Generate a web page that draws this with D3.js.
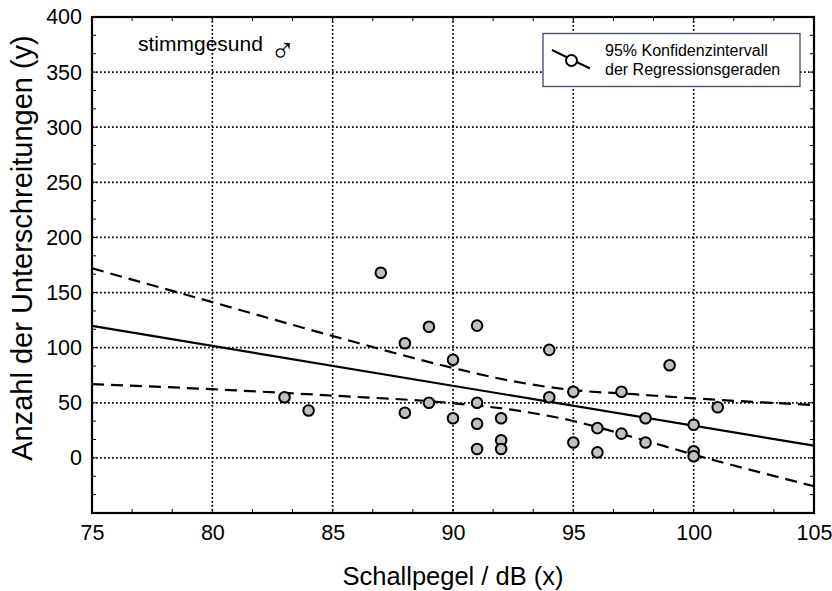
<!DOCTYPE html>
<html><head><meta charset="utf-8">
<script src="https://cdn.jsdelivr.net/npm/d3@7"></script>
<style>
html,body{margin:0;padding:0;background:#fff;}
text{font-family:"Liberation Sans",Arial,sans-serif;fill:#000;}
</style></head>
<body>
<svg id="chart" width="832" height="591"></svg>
<script>
// ---- data ----
const pointX = [83,84,87,88,88,89,89,90,90,91,91,91,91,92,92,92,94,94,95,95,96,96,97,97,98,98,99,100,100,100,101];
const pointY = [55,43,168,104,41,119,50,89,36,120,50,31,8,36,16,8,98,55,60,14,27,5,60,22,36,14,84,30,6,1.5,46];
const regX = [75,105];
const regY = [119.7,11.1];
const bandX = [75,80,85,90,92.5,95,97.5,100,105];
const bandUpper = [172,141.3,110.6,81.6,69.5,61.5,57.8,54,48];
const bandLower = [67,62.3,56.5,49.6,43.5,33.5,18.7,3,-25.7];
const xTicks = [75,80,85,90,95,100,105];
const yTicks = [0,50,100,150,200,250,300,350,400];
const titleText = "stimmgesund";
const titleSymbol = "♂";
const legendLines = ["95% Konfidenzintervall","der Regressionsgeraden"];
const xLabel = "Schallpegel / dB (x)";
const yLabel = "Anzahl der Unterschreitungen (y)";

// ---- layout ----
const L = 92, R = 814, T = 17, B = 513;
const svg = d3.select("#chart");
const x = d3.scaleLinear().domain([75,105]).range([L,R]);
const y = d3.scaleLinear().domain([-50,400]).range([B,T]);

// gridlines
const grid = svg.append("g");
grid.selectAll("line.gx").data(xTicks.filter(v=>v>75&&v<105)).join("line")
  .attr("x1",d=>x(d)).attr("x2",d=>x(d)).attr("y1",T).attr("y2",B)
  .attr("stroke","#000").attr("stroke-width",1.7).attr("stroke-dasharray","1.7,2.3");
grid.selectAll("line.gy").data(yTicks.filter(v=>v<400)).join("line")
  .attr("y1",d=>y(d)).attr("y2",d=>y(d)).attr("x1",L).attr("x2",R)
  .attr("stroke","#000").attr("stroke-width",1.7).attr("stroke-dasharray","1.7,2.3");

// minor / major ticks on all four sides (inward)
const xMinor = d3.range(0,19).map(i=>75+i*5/3);
const yMinor = d3.range(0,28).map(i=>-50+i*50/3);
const tk = svg.append("g").attr("stroke","#000").attr("stroke-width",1);
tk.selectAll("line.xb").data(xMinor).join("line")
  .attr("x1",d=>x(d)).attr("x2",d=>x(d)).attr("y1",B).attr("y2",B-4);
tk.selectAll("line.xt").data(xMinor).join("line")
  .attr("x1",d=>x(d)).attr("x2",d=>x(d)).attr("y1",T).attr("y2",T+4);
tk.selectAll("line.yl").data(yMinor).join("line")
  .attr("y1",d=>y(d)).attr("y2",d=>y(d)).attr("x1",L).attr("x2",L+4);
tk.selectAll("line.yr").data(yMinor).join("line")
  .attr("y1",d=>y(d)).attr("y2",d=>y(d)).attr("x1",R).attr("x2",R-4);

// axes tick labels via d3 axes
const xAxis = svg.append("g").attr("transform",`translate(0,${B})`)
  .call(d3.axisBottom(x).tickValues(xTicks).tickSize(0).tickPadding(12).tickFormat(d3.format("d")));
xAxis.select(".domain").remove();
xAxis.selectAll("text").attr("font-size",21.5).attr("font-family","Liberation Sans, Arial, sans-serif").attr("fill","#000");
const yAxis = svg.append("g").attr("transform",`translate(${L},0)`)
  .call(d3.axisLeft(y).tickValues(yTicks).tickSize(0).tickPadding(10).tickFormat(d3.format("d")));
yAxis.select(".domain").remove();
yAxis.selectAll("text").attr("font-size",21.5).attr("font-family","Liberation Sans, Arial, sans-serif").attr("fill","#000");

// frame
svg.append("rect").attr("x",L).attr("y",T).attr("width",R-L).attr("height",B-T)
  .attr("fill","none").attr("stroke","#000").attr("stroke-width",2.2);

// regression line & confidence bands
const line = d3.line().x(d=>x(d[0])).y(d=>y(d[1]));
const curve = d3.line().x(d=>x(d[0])).y(d=>y(d[1])).curve(d3.curveMonotoneX);
svg.append("path").attr("d",line(regX.map((v,i)=>[v,regY[i]])))
  .attr("fill","none").attr("stroke","#000").attr("stroke-width",2.2);
[bandUpper,bandLower].forEach(arr=>{
  svg.append("path").attr("d",curve(bandX.map((v,i)=>[v,arr[i]])))
    .attr("fill","none").attr("stroke","#000").attr("stroke-width",2.2).attr("stroke-dasharray","12,7");
});

// points
svg.append("g").selectAll("circle").data(pointX.map((v,i)=>[v,pointY[i]])).join("circle")
  .attr("cx",d=>x(d[0])).attr("cy",d=>y(d[1])).attr("r",5.3)
  .attr("fill","#c0c0c0").attr("stroke","#000").attr("stroke-width",2);

// title
svg.append("text").attr("x",138).attr("y",51).attr("font-size",21).text(titleText);
svg.append("text").attr("x",270).attr("y",62).attr("fill","#555")
  .style("font-family","'DejaVu Sans', sans-serif").style("font-size","34px").style("font-weight","200")
  .text(titleSymbol);

// legend
const lg = svg.append("g");
lg.append("rect").attr("x",543).attr("y",33.5).attr("width",257).attr("height",53)
  .attr("fill","#fff").attr("stroke","#3b4a66").attr("stroke-width",1.3);
lg.append("line").attr("x1",552).attr("y1",50).attr("x2",590).attr("y2",68.5)
  .attr("stroke","#000").attr("stroke-width",2);
lg.append("circle").attr("cx",571.5).attr("cy",60.5).attr("r",5.5)
  .attr("fill","#fff").attr("stroke","#000").attr("stroke-width",2);
lg.selectAll("text").data(legendLines).join("text")
  .attr("x",605).attr("y",(d,i)=>56+i*19).attr("font-size",16).text(d=>d);

// axis titles
svg.append("text").attr("x",(L+R)/2).attr("y",585).attr("text-anchor","middle")
  .attr("font-size",25.5).text(xLabel);
svg.append("text").attr("transform",`translate(32,248) rotate(-90)`)
  .attr("text-anchor","middle").attr("font-size",29).text(yLabel);
</script>
</body></html>
